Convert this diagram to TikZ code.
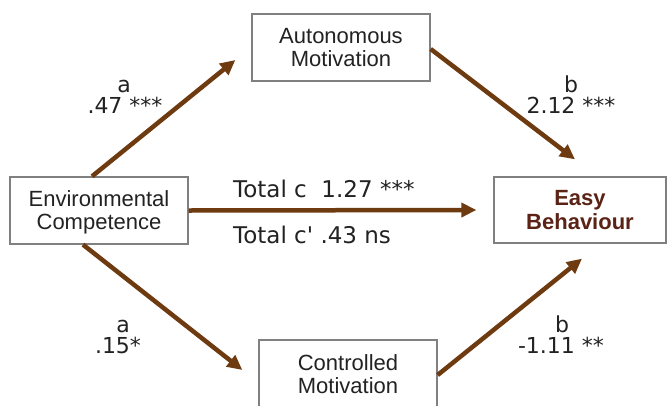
\documentclass[tikz,border=0pt]{standalone}
\usepackage{fontspec}
\setmainfont{Liberation Sans}
\newfontfamily\dejavu{DejaVu Sans}
\usetikzlibrary{arrows.meta,calc}
\definecolor{arrbrown}{HTML}{6E3A0F}
\definecolor{easytext}{HTML}{5A2316}
\definecolor{boxgray}{HTML}{808080}
\definecolor{txt}{HTML}{222222}
\begin{document}
\begin{tikzpicture}[x=1pt,y=-1pt,
  vbox/.style={draw=boxgray,line width=1.3pt,fill=white,inner sep=0pt,align=center,
    text=txt,text depth=0pt,font=\fontsize{22}{23}\selectfont},
  arr/.style={draw=arrbrown,line width=4.5pt,-{Triangle[length=15pt,width=14pt]}},
  lbl/.style={anchor=base,inner sep=0pt,text=txt,font=\dejavu\fontsize{22}{23}\selectfont}]
\useasboundingbox (0,0) rectangle (667,405);
\fill[white] (0,0) rectangle (667,405);
\node[vbox,minimum width=178pt,minimum height=67pt] (env) at (99,210.5) {Environmental\\Competence};
\node[vbox,minimum width=178pt,minimum height=67pt] (aut) at (341,47.5) {Autonomous\\Motivation};
\node[vbox,minimum width=178pt,minimum height=68pt] (con) at (348,374) {Controlled\\Motivation};
\node[vbox,minimum width=172pt,minimum height=66pt,text=easytext,font=\bfseries\fontsize{22}{24}\selectfont] (easy) at (580,210) {Easy\\Behaviour};
\draw[arr] ($(env.north)+(-7,0)$) -- ($(aut.west)+(-16,12.5)$);
\draw[arr] ($(aut.east)+(0,1.5)$) -- ($(easy.north)+(-5,-17)$);
\draw[arr] ($(env.south)+(-16,0)$) -- ($(con.west)+(-16,-4)$);
\draw[arr] ($(con.east)+(0,1)$) -- ($(easy.south)+(2,15)$);
\draw[arr] (env.east) -- ($(easy.west)+(-17,0)$);
\node[lbl] (la1) at (124,92) {a};
\node[lbl] (la2) at (125,113) {.47 ***};
\node[lbl] (lb1) at (571,92) {b};
\node[lbl] (lb2) at (571,113) {2.12 ***};
\node[lbl] (lc1) at (123,332) {a};
\node[lbl] (lc2) at (118,353) {.15*};
\node[lbl] (ld1) at (562,332) {b};
\node[lbl] (ld2) at (561,353) {-1.11 **};
\node[lbl,anchor=base west,font=\dejavu\fontsize{23}{24}\selectfont] (tc) at (233,197) {Total c\ \ 1.27 ***};
\node[lbl,anchor=base west,font=\dejavu\fontsize{23}{24}\selectfont] (tcp) at (233,243) {Total c' .43 ns};
\end{tikzpicture}
\end{document}
